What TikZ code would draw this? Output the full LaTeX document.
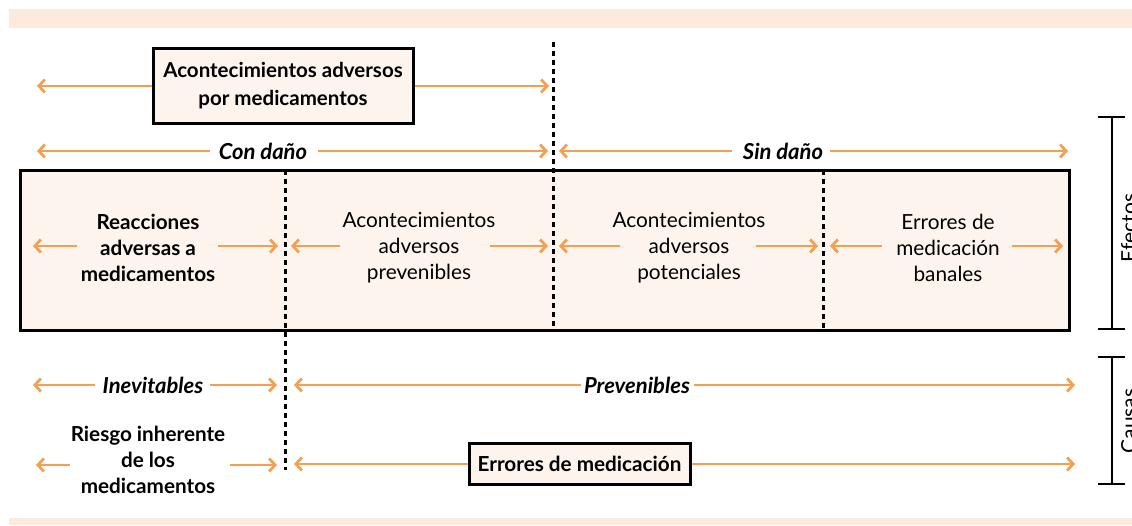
\documentclass[tikz,border=0pt]{standalone}
\usepackage{fontspec}
\setmainfont{Lato}
\usetikzlibrary{arrows.meta}
\definecolor{band}{RGB}{252,235,220}
\definecolor{boxfill}{RGB}{253,244,238}
\definecolor{arr}{RGB}{244,160,82}
\tikzset{
  oarr/.style={draw=arr,line width=2.8pt,-{Straight Barb[length=6pt,width=13pt,line width=2.8pt]}},
  dline/.style={draw=black,line width=3pt,dash pattern=on 5pt off 4pt},
  frame/.style={draw=black,line width=3pt,fill=boxfill},
  lbl/.style={font=\fontsize{20.8}{26}\selectfont,align=center,inner sep=0pt},
  blbl/.style={lbl,font=\fontsize{20.7}{26}\selectfont\bfseries},
  ilbl/.style={lbl,font=\fontsize{22}{26}\selectfont\bfseries\itshape},
  brk/.style={draw=black,line width=2.6pt},
  side/.style={font=\fontsize{21}{24}\selectfont,rotate=90,anchor=north,inner sep=0pt}
}
\begin{document}
\begin{tikzpicture}[x=1pt,y=-1pt]
\useasboundingbox (0,0) rectangle (1132,525);
% bands
\fill[band] (9,9) rectangle (1132,28);
\fill[band] (9,518) rectangle (1132,525);
% big box
\node[frame,minimum width=1049pt,minimum height=160pt,inner sep=0pt] (big) at (544.5,250) {};
% dotted lines
\coordinate (d1t) at (285,170); \coordinate (d1b) at (285,470);
\coordinate (d2t) at (553,42);  \coordinate (d2b) at (553,330);
\coordinate (d3t) at (823,170); \coordinate (d3b) at (823,330);
\draw[dline] (d1t) -- (d1b);
\draw[dline] (d2t) -- (d2b);
\draw[dline] (d3t) -- (d3b);
% top box
\node[frame,blbl,minimum width=260pt,minimum height=75pt,font=\fontsize{20.5}{28}\selectfont\bfseries] (top) at (283,86) {Acontecimientos adversos\\por medicamentos};
\coordinate (a1l) at (37,86); \coordinate (a1r) at (549,86);
\draw[oarr] (top.west) -- (a1l);
\draw[oarr] (top.east) -- (a1r);
% row 2
\node[ilbl] (con) at (263,151) {Con daño};
\coordinate (s2l) at (210,151); \coordinate (s2r) at (318,151);
\coordinate (a2l) at (37,151); \coordinate (a2r) at (548,151);
\draw[oarr] (s2l) -- (a2l);
\draw[oarr] (s2r) -- (a2r);
\node[ilbl] (sin) at (783,151) {Sin daño};
\coordinate (s3l) at (732,151); \coordinate (s3r) at (830,151);
\coordinate (a3l) at (559,151); \coordinate (a3r) at (1068,151);
\draw[oarr] (s3l) -- (a3l);
\draw[oarr] (s3r) -- (a3r);
% cells
\node[blbl] (c1) at (148,248) {Reacciones\\adversas a\\medicamentos};
\coordinate (s4l) at (77,246); \coordinate (s4r) at (218,246);
\coordinate (c1l) at (33,246); \coordinate (c1r) at (278,246);
\draw[oarr] (s4l) -- (c1l);
\draw[oarr] (s4r) -- (c1r);
\node[lbl] (c2) at (419,248) {Acontecimientos\\adversos\\prevenibles};
\coordinate (s5l) at (340,246); \coordinate (s5r) at (490,246);
\coordinate (c2l) at (291,246); \coordinate (c2r) at (548,246);
\draw[oarr] (s5l) -- (c2l);
\draw[oarr] (s5r) -- (c2r);
\node[lbl] (c3) at (689,248) {Acontecimientos\\adversos\\potenciales};
\coordinate (s6l) at (620,246); \coordinate (s6r) at (756,246);
\coordinate (c3l) at (559,246); \coordinate (c3r) at (818,246);
\draw[oarr] (s6l) -- (c3l);
\draw[oarr] (s6r) -- (c3r);
\node[lbl] (c4) at (948,248) {Errores de\\medicación\\banales};
\coordinate (s7l) at (882,246); \coordinate (s7r) at (1012,246);
\coordinate (c4l) at (830,246); \coordinate (c4r) at (1063,246);
\draw[oarr] (s7l) -- (c4l);
\draw[oarr] (s7r) -- (c4r);
% row causes 1
\node[ilbl] (inev) at (153,385) {Inevitables};
\coordinate (s8l) at (95,385); \coordinate (s8r) at (210,385);
\coordinate (i1l) at (33,385); \coordinate (i1r) at (277,385);
\draw[oarr] (s8l) -- (i1l);
\draw[oarr] (s8r) -- (i1r);
\node[ilbl] (prev) at (637,385) {Prevenibles};
\coordinate (s9l) at (581,385); \coordinate (s9r) at (694,385);
\coordinate (p1l) at (294,385); \coordinate (p1r) at (1075,385);
\draw[oarr] (s9l) -- (p1l);
\draw[oarr] (s9r) -- (p1r);
% row causes 2
\node[blbl] (ries) at (148,460) {Riesgo inherente\\de los\\medicamentos};
\coordinate (s10l) at (70,465); \coordinate (s10r) at (230,465);
\coordinate (r1l) at (36,465); \coordinate (r1r) at (277,465);
\draw[oarr] (s10l) -- (r1l);
\draw[oarr] (s10r) -- (r1r);
\node[frame,blbl,minimum width=221pt,minimum height=41pt,inner sep=3pt] (err) at (579.5,464) {Errores de medicación};
\coordinate (e1l) at (294,464); \coordinate (e1r) at (1075,464);
\draw[oarr] (err.west) -- (e1l);
\draw[oarr] (err.east) -- (e1r);
% brackets
\coordinate (b1t) at (1112,117); \coordinate (b1b) at (1112,329);
\draw[brk] (b1t) -- (b1b);
\draw[brk] (1098,117) -- (1125,117);
\draw[brk] (1098,329) -- (1125,329);
\node[side] (efe) at (1121,228) {Efectos};
\coordinate (b2t) at (1112,357); \coordinate (b2b) at (1112,484);
\draw[brk] (b2t) -- (b2b);
\draw[brk] (1098,357) -- (1125,357);
\draw[brk] (1098,484) -- (1125,484);
\node[side] (cau) at (1121,421) {Causas};
\end{tikzpicture}
\end{document}
